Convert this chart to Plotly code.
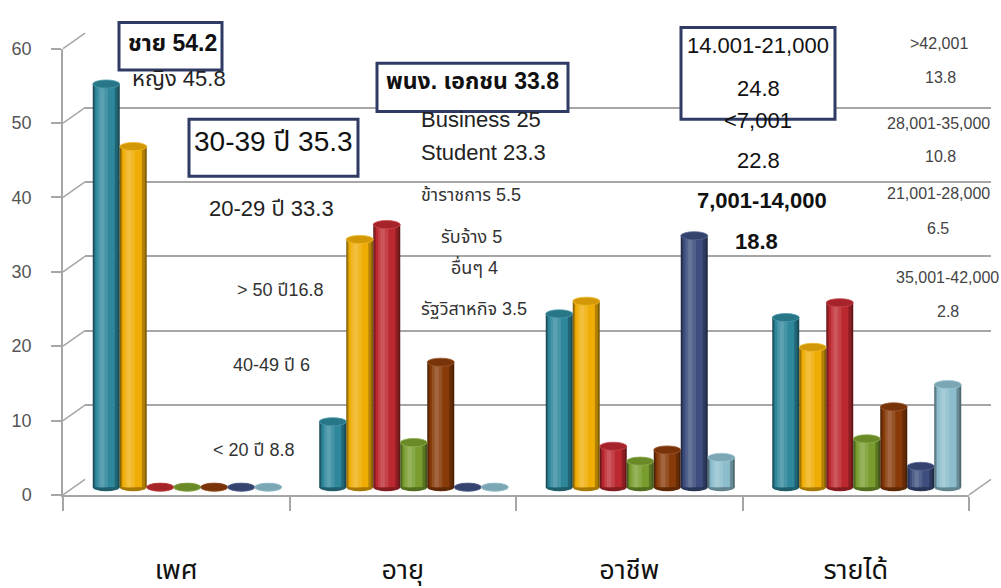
import plotly.graph_objects as go

# ---- data -------------------------------------------------------------
categories = ["เพศ", "อายุ", "อาชีพ", "รายได้"]

# one list per series, one value per category group
s1 = [54.2, 8.8, 23.3, 22.8]
s2 = [45.8, 33.3, 25.0, 18.8]
s3 = [0.0, 35.3, 5.5, 24.8]
s4 = [0.0, 6.0, 3.5, 6.5]
s5 = [0.0, 16.8, 5.0, 10.8]
s6 = [0.0, 0.0, 33.8, 2.8]
s7 = [0.0, 0.0, 4.0, 13.8]
series = [s1, s2, s3, s4, s5, s6, s7]

gender_labels = ["ชาย", "หญิง"]
age_labels = ["< 20 ปี", "20-29 ปี", "30-39 ปี", "40-49 ปี", "> 50 ปี"]
job_labels = ["Student", "Business", "ข้าราชการ", "รัฐวิสาหกิจ", "รับจ้าง", "พนง. เอกชน", "อื่นๆ"]
income_labels = ["<7,001", "7,001-14,000", "14.001-21,000", "21,001-28,000",
                 "28,001-35,000", "35,001-42,000", ">42,001"]

y_ticks = [0, 10, 20, 30, 40, 50, 60]

# ---- styling ----------------------------------------------------------
W, H = 1001, 588
colors = ["#2E879B", "#EFAD06", "#BC282F", "#789D2E", "#883A09", "#3C4D7E", "#8CBDCC"]
GRID = "#A6A6A6"
BOX = "#2F3B64"
FONT = "Liberation Sans, Noto Sans Thai, Loma, Garuda, sans-serif"


def hex2rgb(c):
    c = c.lstrip("#")
    return [int(c[i:i + 2], 16) for i in (0, 2, 4)]


def mix(c, other, t):
    a, b = hex2rgb(c), hex2rgb(other)
    r = [round(a[k] * (1 - t) + b[k] * t) for k in range(3)]
    return "rgb(%d,%d,%d)" % tuple(r)


def px_x(p):
    return p / W


def px_y(p):
    return 1 - p / H


SCALE = 7.7          # pixels per unit on every depth plane
BAR_ZERO = 494       # pixel row of 0 on the plane through the bars
Y_LO, Y_HI = -2, 62  # bar plane range (room for the cylinder bottoms)

fig = go.Figure()

# back wall: gridlines only (first subplot, so it sits beneath the bars)
fig.add_trace(go.Scatter(x=[0], y=[None], xaxis="x", yaxis="y",
                         mode="markers", showlegend=False, hoverinfo="skip"))
# front plane: value axis and category axis
fig.add_trace(go.Scatter(x=categories, y=[None] * len(categories), xaxis="x2", yaxis="y2",
                         mode="markers", showlegend=False, hoverinfo="skip"))

# cylinders: layered bars give the rounded shading
n = len(series)
bw = 0.1192
start = -n * bw / 2
layers = [(0.00, 1.00, "#000000", 0.45),
          (0.04, 0.93, "#000000", 0.25),
          (0.09, 0.82, "#000000", 0.0),
          (0.18, 0.56, "#FFFFFF", 0.12),
          (0.27, 0.43, "#FFFFFF", 0.22)]
xs = list(range(len(categories)))
for i, vals in enumerate(series):
    for f0, f1, tint, t in layers:
        fig.add_trace(go.Bar(
            x=xs, y=vals, xaxis="x3", yaxis="y3",
            offset=start + i * bw + f0 * bw, width=(f1 - f0) * bw,
            marker=dict(color=mix(colors[i], tint, t), line=dict(width=0)),
            showlegend=False, hoverinfo="skip",
        ))

shapes = []
cap_h = 1.1
for i, vals in enumerate(series):
    for g, v in enumerate(vals):
        x0 = g + start + i * bw
        # rounded bottom
        shapes.append(dict(type="circle", xref="x3", yref="y3", layer="between",
                           x0=x0, x1=x0 + bw, y0=-cap_h / 2, y1=cap_h / 2,
                           fillcolor=mix(colors[i], "#000000", 0.3), line=dict(width=0)))
        # top face
        shapes.append(dict(type="circle", xref="x3", yref="y3", layer="above",
                           x0=x0, x1=x0 + bw, y0=v - cap_h / 2, y1=v + cap_h / 2,
                           fillcolor=mix(colors[i], "#000000", 0.12),
                           line=dict(width=0.8, color=mix(colors[i], "#FFFFFF", 0.15))))

# depth connectors between the front axis and the back wall
FRONT_L, FRONT_R, FRONT_Z = 63, 969, 502
BACK_L, BACK_R, BACK_Z = 85, 991, 486
for v in y_ticks:
    shapes.append(dict(type="line", xref="paper", yref="paper",
                       x0=px_x(FRONT_L), y0=px_y(FRONT_Z - SCALE * v),
                       x1=px_x(BACK_L), y1=px_y(BACK_Z - SCALE * v),
                       line=dict(color=GRID, width=1.5)))
shapes.append(dict(type="line", xref="paper", yref="paper",
                   x0=px_x(FRONT_R), y0=px_y(FRONT_Z), x1=px_x(BACK_R), y1=px_y(BACK_Z),
                   line=dict(color=GRID, width=1.5)))

# highlighted boxes
for (bx0, by0, bx1, by1) in [(119, 13, 222, 62), (189, 113, 358, 172),
                             (377, 55, 568, 105), (681, 18, 835, 113)]:
    shapes.append(dict(type="rect", xref="paper", yref="paper", layer="above",
                       x0=px_x(bx0), x1=px_x(bx1), y0=px_y(by1), y1=px_y(by0),
                       fillcolor="white", line=dict(color=BOX, width=3)))

# ---- labels -----------------------------------------------------------
def fmt(v):
    return f"{v:g}"


gender = [s[0] for s in series]
age = [s[1] for s in series]
job = [s[2] for s in series]
income = [s[3] for s in series]

notes = [
    # text, x px, y px, size, bold, anchor, color
    (f"{gender_labels[0]} {fmt(gender[0])}", 172, 40, 23, True, "center", "#111111"),
    (f"{gender_labels[1]} {fmt(gender[1])}", 179, 77, 22, False, "center", "#222222"),
    (f"{age_labels[2]} {fmt(age[2])}", 273, 142, 28, False, "center", "#111111"),
    (f"{age_labels[1]} {fmt(age[1])}", 271, 211, 22, False, "center", "#222222"),
    (f"{age_labels[4]}{fmt(age[4])}", 280, 296, 18, False, "center", "#333333"),
    (f"{age_labels[3]} {fmt(age[3])}", 271, 373, 18, False, "center", "#333333"),
    (f"{age_labels[0]} {fmt(age[0])}", 253, 461, 18, False, "center", "#333333"),
    (f"{job_labels[5]} {fmt(job[5])}", 472, 80, 23, True, "center", "#111111"),
    (f"{job_labels[1]} {fmt(job[1])}", 419, 119, 22, False, "left", "#222222"),
    (f"{job_labels[0]} {fmt(job[0])}", 419, 153, 22, False, "left", "#222222"),
    (f"{job_labels[2]} {fmt(job[2])}", 419, 198, 18, False, "left", "#333333"),
    (f"{job_labels[4]} {fmt(job[4])}", 439, 241, 18, False, "left", "#333333"),
    (f"{job_labels[6]} {fmt(job[6])}", 449, 272, 18, False, "left", "#333333"),
    (f"{job_labels[3]} {fmt(job[3])}", 419, 316, 18, False, "left", "#333333"),
    (income_labels[2], 758, 43, 22, False, "center", "#111111"),
    (fmt(income[2]), 758, 87, 22, False, "center", "#111111"),
    (income_labels[0], 758, 120, 22, False, "center", "#111111"),
    (fmt(income[0]), 758, 162, 22, False, "center", "#111111"),
    (income_labels[1], 762, 203, 22, True, "center", "#111111"),
    (fmt(income[1]), 756, 246, 22, True, "center", "#111111"),
    (income_labels[6], 939, 41, 16, False, "center", "#444444"),
    (fmt(income[6]), 940, 76, 16, False, "center", "#444444"),
    (income_labels[4], 938, 124, 16, False, "center", "#444444"),
    (fmt(income[4]), 940, 158, 16, False, "center", "#444444"),
    (income_labels[3], 938, 196, 16, False, "center", "#444444"),
    (fmt(income[3]), 938, 232, 16, False, "center", "#444444"),
    (income_labels[5], 947, 283, 16, False, "center", "#444444"),
    (fmt(income[5]), 948, 318, 16, False, "center", "#444444"),
]
TEXT_SHIFT = 6  # annotation boxes sit a little low for their centre row
annotations = []
for text, x, y, size, bold, anchor, col in notes:
    annotations.append(dict(
        text=f"<b>{text}</b>" if bold else text,
        xref="paper", yref="paper", x=px_x(x), y=px_y(y - TEXT_SHIFT),
        xanchor=anchor, yanchor="middle", showarrow=False,
        font=dict(size=size, color=col, family=FONT),
    ))

hidden = dict(showgrid=False, zeroline=False, showticklabels=False, ticks="", showline=False)

fig.update_layout(
    width=W, height=H,
    margin=dict(l=0, r=0, t=0, b=0),
    paper_bgcolor="white", plot_bgcolor="rgba(0,0,0,0)",
    barmode="overlay",
    font=dict(family=FONT),
    showlegend=False,
    # back wall
    xaxis=dict(domain=[px_x(BACK_L), px_x(BACK_R)], range=[-0.5, 3.5], anchor="y", **hidden),
    yaxis=dict(domain=[px_y(BACK_Z), px_y(BACK_Z - SCALE * 60)], range=[-0.001, 60.001],
               anchor="x", tickvals=y_ticks, showgrid=True, gridcolor=GRID, gridwidth=1.5,
               zeroline=False, showticklabels=False, ticks="", showline=False),
    # front plane
    xaxis2=dict(domain=[px_x(FRONT_L), px_x(FRONT_R)], anchor="y2", type="category",
                categoryorder="array", categoryarray=categories, range=[-0.5, 3.5],
                tickson="boundaries", ticks="outside", ticklen=14, tickwidth=1.5, tickcolor=GRID,
                showline=True, linecolor=GRID, linewidth=1.5, showgrid=False,
                tickfont=dict(size=27, color="#111111", family=FONT), ticklabelstandoff=50),
    yaxis2=dict(domain=[px_y(FRONT_Z), px_y(FRONT_Z - SCALE * 60)], range=[0, 60], anchor="x2",
                tickvals=y_ticks, ticks="outside", ticklen=10, tickwidth=1.5, tickcolor=GRID,
                showline=True, linecolor=GRID, linewidth=1.5, showgrid=False, zeroline=False,
                tickfont=dict(size=18, color="#555555", family=FONT), ticklabelstandoff=16),
    # bar plane
    xaxis3=dict(domain=[px_x(74), px_x(980)], range=[-0.5, 3.5], anchor="y3", **hidden),
    yaxis3=dict(domain=[px_y(BAR_ZERO - SCALE * Y_LO), px_y(BAR_ZERO - SCALE * Y_HI)],
                range=[Y_LO, Y_HI], anchor="x3", **hidden),
    shapes=shapes,
    annotations=annotations,
)

fig.write_html("out.html")
